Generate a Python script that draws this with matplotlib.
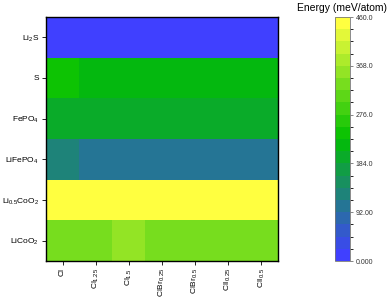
import matplotlib
matplotlib.use("Agg")
import matplotlib.pyplot as plt
import numpy as np
from matplotlib.colors import LinearSegmentedColormap, BoundaryNorm

plt.rcParams['font.family'] = ['Liberation Sans', 'DejaVu Sans']
plt.rcParams['mathtext.fontset'] = 'custom'
plt.rcParams['mathtext.rm'] = 'Liberation Sans'
plt.rcParams['mathtext.default'] = 'regular'

# Data (meV/atom)
compositions = ["Cl", "Cl$_{1.25}$", "Cl$_{1.5}$", "ClBr$_{0.25}$", "ClBr$_{0.5}$",
                "ClI$_{0.25}$", "ClI$_{0.5}$"]
materials = ["Li$_2$S", "S", "FePO$_4$", "LiFePO$_4$", "Li$_{0.5}$CoO$_2$", "LiCoO$_2$"]
li2s = [8, 8, 8, 8, 8, 8, 8]
sulfur = [245, 225, 225, 225, 225, 225, 225]
fepo4 = [190, 190, 190, 190, 190, 190, 190]
lifepo4 = [125, 110, 110, 110, 110, 110, 110]
li05coo2 = [455, 455, 455, 455, 455, 455, 455]
licoo2 = [335, 335, 352, 335, 335, 335, 335]
cbar_ticks = [0, 92, 184, 276, 368, 460]
cbar_labels = ["0.000", "92.00", "184.0", "276.0", "368.0", "460.0"]

energy = np.array([li2s, sulfur, fepo4, lifepo4, li05coo2, licoo2])

cmap = LinearSegmentedColormap.from_list(
    "origin_like", [(0.0, "#4040FF"), (0.5, "#00C000"), (1.0, "#FFFF40")])
levels = np.linspace(0, 460, 21)
norm = BoundaryNorm(levels, cmap.N)

fig = plt.figure(figsize=(3.92, 2.99), dpi=100)
ax = fig.add_axes([46 / 392, 1 - 261 / 299, 232 / 392, 244 / 299])
ax.pcolormesh(np.arange(len(compositions) + 1) - 0.5,
              np.arange(len(materials) + 1) - 0.5,
              energy, cmap=cmap, norm=norm)
ax.set_xlim(-0.5, len(compositions) - 0.5)
ax.set_ylim(len(materials) - 0.5, -0.5)
ax.set_xticks(range(len(compositions)))
ax.set_xticklabels(compositions, rotation=90, fontsize=6)
ax.set_yticks(range(len(materials)))
ax.set_yticklabels(materials, fontsize=6)
ax.tick_params(length=3, width=0.6, pad=2)
for s in ax.spines.values():
    s.set_linewidth(1.0)

cax = fig.add_axes([335 / 392, 1 - 261 / 299, 15 / 392, 244 / 299])
sm = plt.cm.ScalarMappable(cmap=cmap, norm=norm)
cb = fig.colorbar(sm, cax=cax, ticks=cbar_ticks)
cb.ax.set_yticklabels(cbar_labels, fontsize=5, color="#333333")
cb.ax.tick_params(length=2.5, width=0.5, pad=1.5, color="#555555")
cb.outline.set_linewidth(0.6)
cb.outline.set_edgecolor("#777777")
fig.text(342 / 392, 1 - 8 / 299, "Energy (meV/atom)", ha="center", va="center", fontsize=7.5)

fig.savefig("out.png", dpi=100)
